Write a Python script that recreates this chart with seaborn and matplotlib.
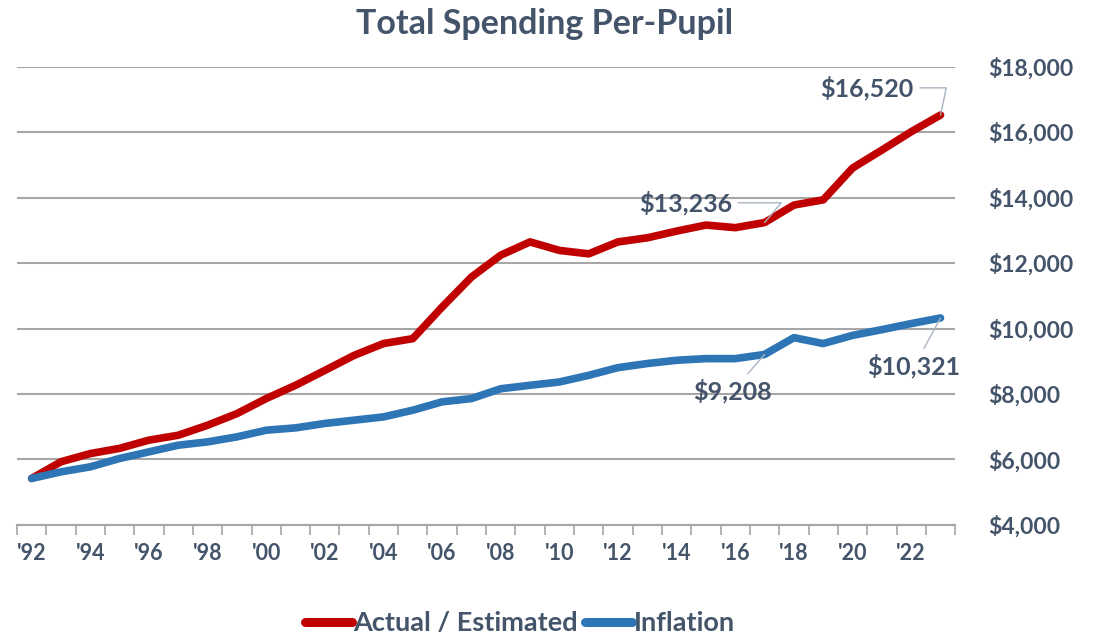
import matplotlib.pyplot as plt
import seaborn as sns
import pandas as pd
from matplotlib.ticker import FuncFormatter, MultipleLocator

years = list(range(1992, 2024))
actual = [5420, 5930, 6180, 6340, 6590, 6740, 7045, 7400, 7860, 8265,
          8720, 9180, 9540, 9690, 10655, 11570, 12240, 12645, 12385, 12280,
          12645, 12770, 12975, 13160, 13080, 13236, 13770, 13930, 14900,
          15450, 16010, 16520]
inflation = [5420, 5622, 5775, 6030, 6232, 6436, 6537, 6690, 6894, 6965,
             7100, 7200, 7300, 7505, 7760, 7860, 8160, 8266, 8367, 8570,
             8805, 8930, 9030, 9080, 9080, 9208, 9720, 9540, 9790, 9965,
             10150, 10321]
series_names = ["Actual / Estimated", "Inflation"]
tick_years = list(range(1992, 2024, 2))

df = pd.DataFrame({
    "year": years * 2,
    "value": actual + inflation,
    "series": [series_names[0]] * len(years) + [series_names[1]] * len(years),
})

sns.set_theme(style="white")
plt.rcParams['font.family'] = ['Lato', 'DejaVu Sans']
txt = "#44546A"

fig = plt.figure(figsize=(10.96, 6.34), dpi=100)
ax = fig.add_axes([0.0155, 0.172, 0.856, 0.723])

ax.yaxis.grid(True, color="#A6A6A6", lw=1.5)
ax.set_axisbelow(True)

sns.lineplot(data=df, x="year", y="value", hue="series",
             palette=["#C00000", "#2E75B6"], lw=5.5, ax=ax,
             solid_capstyle="round", solid_joinstyle="round")

ax.set_xlim(1991.5, 2023.5)
ax.set_ylim(4000, 18000)
ax.yaxis.set_major_locator(MultipleLocator(2000))
ax.yaxis.tick_right()
ax.yaxis.set_major_formatter(FuncFormatter(lambda v, p: f"${v:,.0f}"))
ax.tick_params(axis="y", length=0, pad=24, labelsize=16.5, labelcolor=txt)
for lab in ax.get_yticklabels():
    lab.set_fontweight("bold")

ax.set_xticks(tick_years)
ax.set_xticklabels([f"'{y % 100:02d}" for y in tick_years], fontsize=15.5,
                   color=txt, fontweight="bold")
ax.set_xticks([y + 0.5 for y in range(1991, 2024)], minor=True)
ax.tick_params(axis="x", which="major", length=0, pad=13)
ax.tick_params(axis="x", which="minor", length=7, width=1.2,
               color="#A6A6A6", direction="out", bottom=True)
ax.set_xlabel("")
ax.set_ylabel("")
for s in ["top", "left", "right"]:
    ax.spines[s].set_visible(False)
ax.spines["bottom"].set_color("#A6A6A6")
ax.spines["bottom"].set_linewidth(1.5)

fig.suptitle("Total Spending Per-Pupil", x=0.497, y=0.962, va="center",
             fontsize=24.5, fontweight="bold", color=txt)

lead = dict(arrowstyle="-", color="#A9B4C2", lw=1, shrinkA=2, shrinkB=0)
lab_kw = dict(fontsize=18, color=txt, fontweight="bold")
ax.annotate(f"${actual[-1]:,}", xy=(2023, actual[-1]), xytext=(2020.5, 17350),
            ha="center", va="center",
            arrowprops=dict(connectionstyle="angle,angleA=0,angleB=78", **lead),
            **lab_kw)
ax.annotate(f"${actual[25]:,}", xy=(2017, actual[25]), xytext=(2014.3, 13840),
            ha="center", va="center",
            arrowprops=dict(connectionstyle="angle,angleA=0,angleB=50", **lead),
            **lab_kw)
ax.annotate(f"${inflation[25]:,}", xy=(2017, inflation[25]), xytext=(2015.9, 8080),
            ha="center", va="center", arrowprops=lead, **lab_kw)
ax.annotate(f"${inflation[-1]:,}", xy=(2023, inflation[-1]), xytext=(2022.1, 8840),
            ha="center", va="center", arrowprops=lead, **lab_kw)

leg = ax.legend(loc="upper center", bbox_to_anchor=(0.536, -0.135), ncol=2,
                frameon=False, handlelength=1.75, handletextpad=0.05,
                columnspacing=0.25, fontsize=19.5)
for t in leg.get_texts():
    t.set_color(txt)
    t.set_fontweight("bold")
for h in leg.get_lines():
    h.set_linewidth(6.5)

fig.savefig("out.png", dpi=100)
